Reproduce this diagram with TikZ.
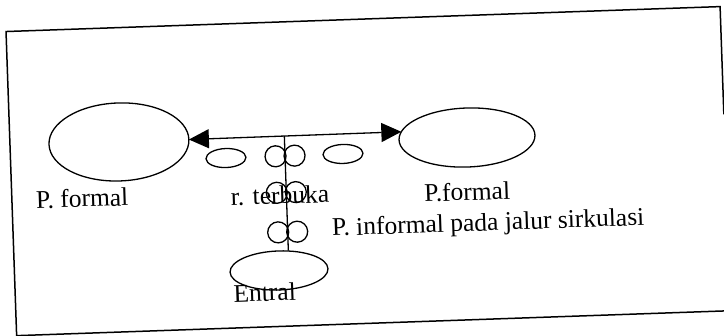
\documentclass[tikz,border=0pt]{standalone}
\usepackage{fontspec}
\setmainfont{Liberation Serif}
\usetikzlibrary{shapes.geometric,arrows.meta}
\begin{document}
\begin{tikzpicture}[x=1pt,y=-1pt,
  ov/.style={draw, ellipse, inner sep=0pt, outer sep=0pt, line width=1.3pt},
  ring/.style={draw, circle, inner sep=0pt, outer sep=0pt, minimum size=21pt, line width=1.3pt},
  lbl/.style={inner sep=0pt, anchor=base, font=\fontsize{25.5}{30}\selectfont},
  conn/.style={line width=1.3pt},
  frame/.style={line width=1.5pt}]
\useasboundingbox (0,0) rectangle (724,336);
\begin{scope}[rotate around={2:(362,168)}, transform shape]
  % frame
  \draw[frame] (725.5,127) -- (725.5,19.2) -- (11,19.2) -- (11,323.5) -- (725.5,323.5);
  % ellipses
  \node[ov, minimum width=140pt, minimum height=78pt] (L) at (120,133.5) {};
  \node[ov, minimum width=136pt, minimum height=59pt] (R) at (468,141.2) {};
  \node[ov, minimum width=40pt, minimum height=19pt] (sl) at (226.4,153.3) {};
  \node[ov, minimum width=40pt, minimum height=19pt] (sr) at (343.5,153.3) {};
  \node[ov, minimum width=98pt, minimum height=39pt] (E) at (275.5,267.5) {};
  % labels
  \node[lbl] (tL) at (81.3,197.2) {P. formal};
  \node[lbl] (tT) at (279,201.1) {r. terbuka};
  \node[lbl] (tR) at (466.3,204) {P.formal};
  \node[lbl] (tI) at (486.2,234.9) {P. informal pada jalur sirkulasi};
  \node[lbl] (tE) at (260.4,297.5) {Entral};
  % circle pairs
  \node[ring] (c1a) at (276,153.3) {};
  \node[ring] (c1b) at (295,153.3) {};
  \node[ring] (c2a) at (276,189.8) {};
  \node[ring] (c2b) at (295,189.8) {};
  \node[ring] (c3a) at (276,229.4) {};
  \node[ring] (c3b) at (295,229.4) {};
  % connectors
  \draw[conn, {Triangle[length=20pt,width=19pt]}-{Triangle[length=20pt,width=19pt]}] (L.east) -- (R.173);
  \coordinate (J) at (285.5,133.5);
  \draw[conn] (J) -- (J |- E.north);
\end{scope}
\end{tikzpicture}
\end{document}
